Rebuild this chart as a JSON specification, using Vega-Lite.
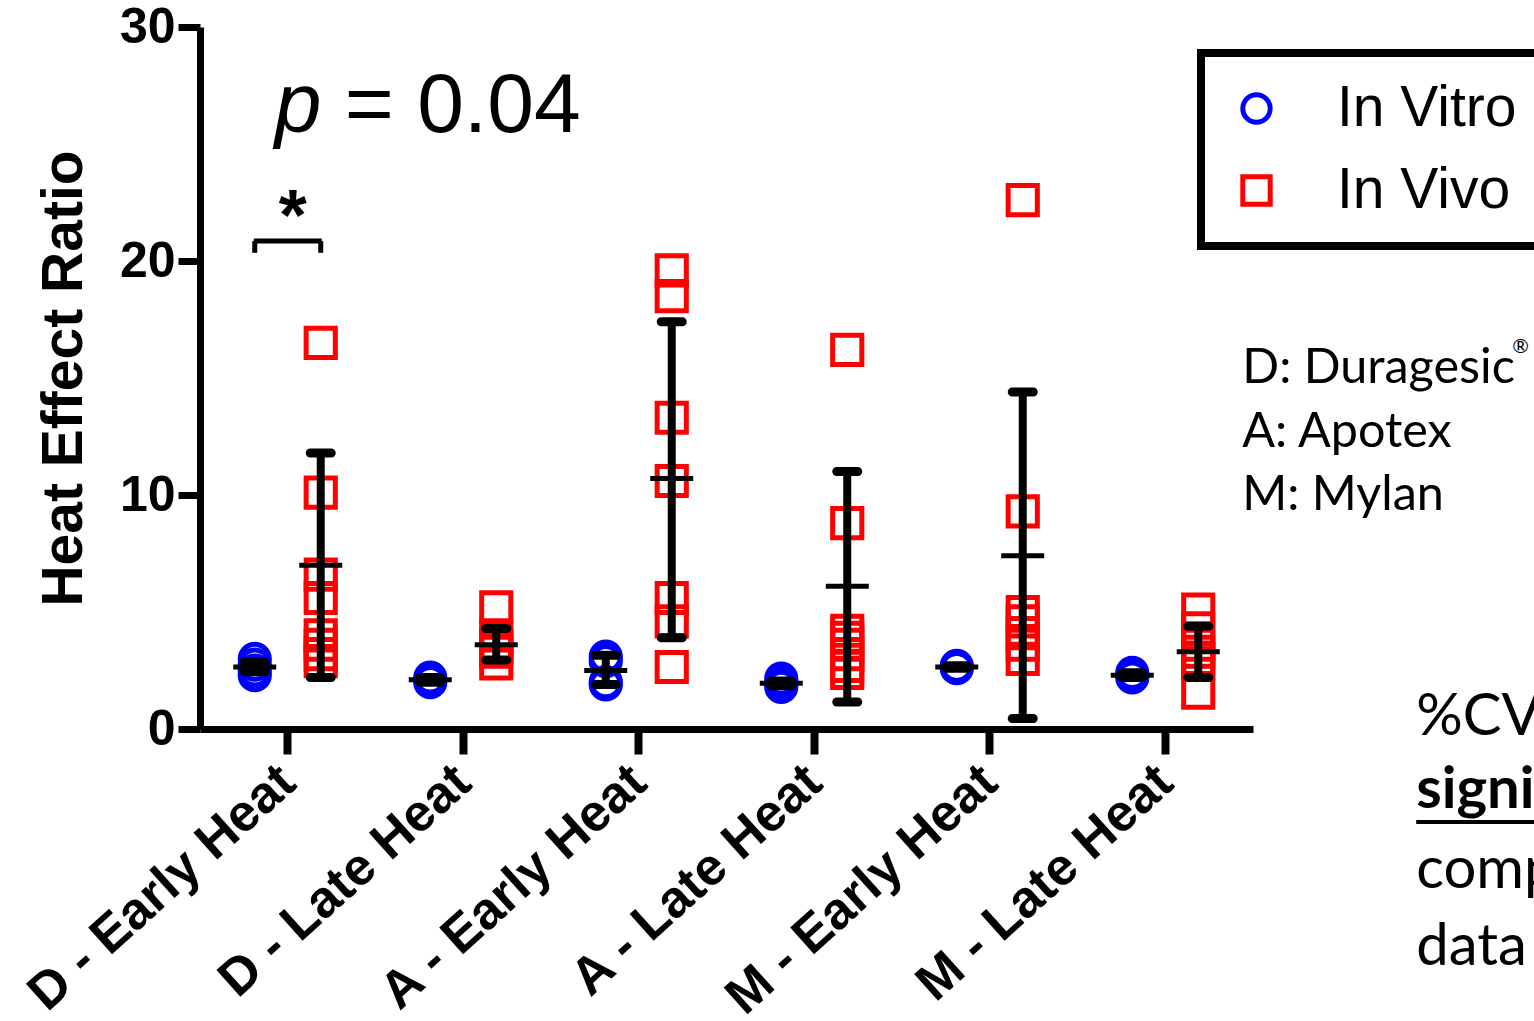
{
  "$schema": "https://vega.github.io/schema/vega-lite/v6.json",
  "width": 1053,
  "height": 702,
  "autosize": "none",
  "padding": {"left": 200, "top": 27, "right": 281, "bottom": 292},
  "background": "white",
  "datasets": {
    "points": [
      {"cat": "D - Early Heat", "grp": "In Vitro", "v": 3.0},
      {"cat": "D - Early Heat", "grp": "In Vitro", "v": 2.75},
      {"cat": "D - Early Heat", "grp": "In Vitro", "v": 2.5},
      {"cat": "D - Early Heat", "grp": "In Vitro", "v": 2.3},
      {"cat": "D - Early Heat", "grp": "In Vivo", "v": 16.5},
      {"cat": "D - Early Heat", "grp": "In Vivo", "v": 10.1},
      {"cat": "D - Early Heat", "grp": "In Vivo", "v": 6.6},
      {"cat": "D - Early Heat", "grp": "In Vivo", "v": 5.6},
      {"cat": "D - Early Heat", "grp": "In Vivo", "v": 4.0},
      {"cat": "D - Early Heat", "grp": "In Vivo", "v": 3.6},
      {"cat": "D - Early Heat", "grp": "In Vivo", "v": 3.2},
      {"cat": "D - Early Heat", "grp": "In Vivo", "v": 2.9},
      {"cat": "D - Late Heat", "grp": "In Vitro", "v": 2.2},
      {"cat": "D - Late Heat", "grp": "In Vitro", "v": 2.1},
      {"cat": "D - Late Heat", "grp": "In Vitro", "v": 2.0},
      {"cat": "D - Late Heat", "grp": "In Vivo", "v": 5.2},
      {"cat": "D - Late Heat", "grp": "In Vivo", "v": 4.0},
      {"cat": "D - Late Heat", "grp": "In Vivo", "v": 3.6},
      {"cat": "D - Late Heat", "grp": "In Vivo", "v": 3.5},
      {"cat": "D - Late Heat", "grp": "In Vivo", "v": 3.3},
      {"cat": "D - Late Heat", "grp": "In Vivo", "v": 2.8},
      {"cat": "A - Early Heat", "grp": "In Vitro", "v": 3.1},
      {"cat": "A - Early Heat", "grp": "In Vitro", "v": 2.9},
      {"cat": "A - Early Heat", "grp": "In Vitro", "v": 2.0},
      {"cat": "A - Early Heat", "grp": "In Vitro", "v": 1.9},
      {"cat": "A - Early Heat", "grp": "In Vivo", "v": 19.6},
      {"cat": "A - Early Heat", "grp": "In Vivo", "v": 18.5},
      {"cat": "A - Early Heat", "grp": "In Vivo", "v": 13.3},
      {"cat": "A - Early Heat", "grp": "In Vivo", "v": 10.6},
      {"cat": "A - Early Heat", "grp": "In Vivo", "v": 5.6},
      {"cat": "A - Early Heat", "grp": "In Vivo", "v": 4.6},
      {"cat": "A - Early Heat", "grp": "In Vivo", "v": 2.65},
      {"cat": "A - Late Heat", "grp": "In Vitro", "v": 2.15},
      {"cat": "A - Late Heat", "grp": "In Vitro", "v": 2.0},
      {"cat": "A - Late Heat", "grp": "In Vitro", "v": 1.8},
      {"cat": "A - Late Heat", "grp": "In Vivo", "v": 16.2},
      {"cat": "A - Late Heat", "grp": "In Vivo", "v": 8.8},
      {"cat": "A - Late Heat", "grp": "In Vivo", "v": 4.2},
      {"cat": "A - Late Heat", "grp": "In Vivo", "v": 3.9},
      {"cat": "A - Late Heat", "grp": "In Vivo", "v": 3.6},
      {"cat": "A - Late Heat", "grp": "In Vivo", "v": 3.2},
      {"cat": "A - Late Heat", "grp": "In Vivo", "v": 2.7},
      {"cat": "A - Late Heat", "grp": "In Vivo", "v": 2.4},
      {"cat": "M - Early Heat", "grp": "In Vitro", "v": 2.7},
      {"cat": "M - Early Heat", "grp": "In Vitro", "v": 2.65},
      {"cat": "M - Early Heat", "grp": "In Vitro", "v": 2.6},
      {"cat": "M - Early Heat", "grp": "In Vivo", "v": 22.6},
      {"cat": "M - Early Heat", "grp": "In Vivo", "v": 9.3},
      {"cat": "M - Early Heat", "grp": "In Vivo", "v": 5.0},
      {"cat": "M - Early Heat", "grp": "In Vivo", "v": 4.6},
      {"cat": "M - Early Heat", "grp": "In Vivo", "v": 4.1},
      {"cat": "M - Early Heat", "grp": "In Vivo", "v": 3.6},
      {"cat": "M - Early Heat", "grp": "In Vivo", "v": 3.0},
      {"cat": "M - Late Heat", "grp": "In Vitro", "v": 2.4},
      {"cat": "M - Late Heat", "grp": "In Vitro", "v": 2.3},
      {"cat": "M - Late Heat", "grp": "In Vitro", "v": 2.2},
      {"cat": "M - Late Heat", "grp": "In Vivo", "v": 5.1},
      {"cat": "M - Late Heat", "grp": "In Vivo", "v": 4.3},
      {"cat": "M - Late Heat", "grp": "In Vivo", "v": 3.6},
      {"cat": "M - Late Heat", "grp": "In Vivo", "v": 3.3},
      {"cat": "M - Late Heat", "grp": "In Vivo", "v": 3.0},
      {"cat": "M - Late Heat", "grp": "In Vivo", "v": 2.8},
      {"cat": "M - Late Heat", "grp": "In Vivo", "v": 1.55}
    ],
    "summary": [
      {"cat": "D - Early Heat", "grp": "In Vitro", "mean": 2.65, "lo": 2.45, "hi": 2.85},
      {"cat": "D - Early Heat", "grp": "In Vivo", "mean": 7.0, "lo": 2.2, "hi": 11.8},
      {"cat": "D - Late Heat", "grp": "In Vitro", "mean": 2.1, "lo": 2.0, "hi": 2.2},
      {"cat": "D - Late Heat", "grp": "In Vivo", "mean": 3.6, "lo": 2.95, "hi": 4.3},
      {"cat": "A - Early Heat", "grp": "In Vitro", "mean": 2.5, "lo": 1.9, "hi": 3.15},
      {"cat": "A - Early Heat", "grp": "In Vivo", "mean": 10.7, "lo": 3.9, "hi": 17.4},
      {"cat": "A - Late Heat", "grp": "In Vitro", "mean": 1.95, "lo": 1.85, "hi": 2.05},
      {"cat": "A - Late Heat", "grp": "In Vivo", "mean": 6.1, "lo": 1.15, "hi": 11.0},
      {"cat": "M - Early Heat", "grp": "In Vitro", "mean": 2.65, "lo": 2.6, "hi": 2.7},
      {"cat": "M - Early Heat", "grp": "In Vivo", "mean": 7.4, "lo": 0.45, "hi": 14.4},
      {"cat": "M - Late Heat", "grp": "In Vitro", "mean": 2.3, "lo": 2.2, "hi": 2.4},
      {"cat": "M - Late Heat", "grp": "In Vivo", "mean": 3.3, "lo": 2.2, "hi": 4.4}
    ]
  },
  "config": {
    "view": {"stroke": null},
    "font": "Liberation Sans",
    "legend": {"strokeColor": "black", "strokeWidth": 8}
  },
  "encoding": {
    "x": {
      "field": "cat", "type": "nominal", "sort": null,
      "scale": {"domain": ["D - Early Heat", "D - Late Heat", "A - Early Heat", "A - Late Heat", "M - Early Heat", "M - Late Heat"], "paddingInner": 0, "paddingOuter": 0},
      "axis": {
        "title": null, "domainColor": "black", "domainWidth": 7, "tickColor": "black", "tickWidth": 8, "tickSize": 25,
        "labelAngle": -42, "labelAlign": "right", "labelBaseline": "middle", "labelFont": "Liberation Sans", "labelFontWeight": "bold",
        "labelFontSize": 52, "labelColor": "black", "labelPadding": 20, "labelLimit": 0
      }
    },
    "y": {
      "type": "quantitative",
      "scale": {"domain": [0, 30], "nice": false, "zero": true},
      "axis": {
        "title": "Heat Effect Ratio", "titleFont": "Liberation Sans", "titleFontSize": 57, "titleFontWeight": "bold", "titleColor": "black", "titlePadding": 26,
        "values": [0, 10, 20, 30], "grid": false, "domainColor": "black", "domainWidth": 7, "tickColor": "black", "tickWidth": 7, "tickSize": 22,
        "labelFont": "Liberation Sans", "labelFontWeight": "bold", "labelFontSize": 50, "labelColor": "black", "labelPadding": 3
      }
    }
  },
  "layer": [
    {
      "data": {"name": "points"},
      "mark": {"type": "point", "filled": false, "strokeWidth": 5, "size": 850, "opacity": 1},
      "encoding": {
        "xOffset": {"field": "grp", "type": "nominal", "scale": {"domain": ["In Vitro", "In Vivo"], "paddingInner": 0, "paddingOuter": 0.33}},
        "y": {"field": "v", "type": "quantitative"},
        "color": {"field": "grp", "type": "nominal", "scale": {"domain": ["In Vitro", "In Vivo"], "range": ["#0000FF", "#FF0000"]},
          "legend": {"title": null, "orient": "none", "legendX": 1001, "legendY": 26, "strokeColor": "black", "fillColor": "white",
            "padding": 27, "labelFont": "Liberation Sans", "labelFontSize": 57, "labelColor": "black", "labelOffset": 52, "rowPadding": 24,
            "symbolSize": 750, "symbolStrokeWidth": 5, "labelLimit": 0}},
        "shape": {"field": "grp", "type": "nominal", "scale": {"domain": ["In Vitro", "In Vivo"], "range": ["circle", "square"]},
          "legend": {"title": null, "orient": "none", "legendX": 1001, "legendY": 26, "strokeColor": "black", "fillColor": "white",
            "padding": 27, "labelFont": "Liberation Sans", "labelFontSize": 57, "labelColor": "black", "labelOffset": 52, "rowPadding": 24,
            "symbolSize": 750, "symbolStrokeWidth": 5, "labelLimit": 0}}
      }
    },
    {
      "data": {"name": "summary"},
      "mark": {"type": "rule", "color": "black", "strokeWidth": 8},
      "encoding": {
        "xOffset": {"field": "grp", "type": "nominal"},
        "y": {"field": "lo", "type": "quantitative"},
        "y2": {"field": "hi"}
      }
    },
    {
      "data": {"name": "summary"},
      "mark": {"type": "tick", "color": "black", "size": 30, "thickness": 9, "cornerRadius": 4.5, "opacity": 1},
      "encoding": {
        "xOffset": {"field": "grp", "type": "nominal"},
        "y": {"field": "lo", "type": "quantitative"}
      }
    },
    {
      "data": {"name": "summary"},
      "mark": {"type": "tick", "color": "black", "size": 30, "thickness": 9, "cornerRadius": 4.5, "opacity": 1},
      "encoding": {
        "xOffset": {"field": "grp", "type": "nominal"},
        "y": {"field": "hi", "type": "quantitative"}
      }
    },
    {
      "data": {"name": "summary"},
      "mark": {"type": "tick", "color": "black", "size": 43, "thickness": 5, "opacity": 1},
      "encoding": {
        "xOffset": {"field": "grp", "type": "nominal"},
        "y": {"field": "mean", "type": "quantitative"}
      }
    },
    {
      "data": {"values": [{"grp": "In Vitro"}, {"grp": "In Vivo"}]},
      "mark": {"type": "rule", "color": "black", "strokeWidth": 5},
      "encoding": {
        "x": {"datum": "D - Early Heat"},
        "xOffset": {"field": "grp", "type": "nominal"},
        "y": {"datum": 20.85},
        "y2": {"datum": 20.35}
      }
    },
    {
      "data": {"values": [{}]},
      "mark": {"type": "tick", "color": "black", "size": 68, "thickness": 5, "opacity": 1},
      "encoding": {"x": {"datum": "D - Early Heat"}, "y": {"datum": 20.85}}
    },
    {
      "data": {"values": [{}]},
      "mark": {"type": "text", "text": "*", "font": "Liberation Sans", "fontSize": 72, "fontWeight": "bold", "align": "center", "baseline": "alphabetic", "dx": 5, "color": "black"},
      "encoding": {"x": {"datum": "D - Early Heat"}, "y": {"datum": 20.9}}
    },
    {
      "data": {"values": [{}]},
      "mark": {"type": "text", "text": "p", "font": "Liberation Sans", "fontSize": 84, "fontStyle": "italic", "align": "left", "baseline": "alphabetic", "dx": -13, "color": "black"},
      "encoding": {"x": {"datum": "D - Early Heat"}, "y": {"datum": 25.5}}
    },
    {
      "data": {"values": [{}]},
      "mark": {"type": "text", "text": "= 0.04", "font": "Liberation Sans", "fontSize": 84, "align": "left", "baseline": "alphabetic", "dx": 57, "color": "black"},
      "encoding": {"x": {"datum": "D - Early Heat"}, "y": {"datum": 25.5}}
    },
    {
      "data": {"values": [{"t": "D: Duragesic", "yy": 14.79}, {"t": "A: Apotex", "yy": 12.05}, {"t": "M: Mylan", "yy": 9.36}]},
      "mark": {"type": "text", "font": "Lato", "fontSize": 48.5, "align": "left", "baseline": "alphabetic", "dx": 77, "color": "black"},
      "encoding": {"x": {"datum": "M - Late Heat"}, "y": {"field": "yy", "type": "quantitative"}, "text": {"field": "t"}}
    },
    {
      "data": {"values": [{}]},
      "mark": {"type": "text", "text": "®", "font": "Lato", "fontSize": 20, "align": "left", "baseline": "alphabetic", "dx": 347, "color": "black"},
      "encoding": {"x": {"datum": "M - Late Heat"}, "y": {"datum": 16.05}}
    },
    {
      "data": {"values": [{"t": "%CV", "yy": -0.26}, {"t": "comp", "yy": -6.79}, {"t": "data", "yy": -10.09}]},
      "mark": {"type": "text", "font": "Lato", "fontSize": 58, "align": "left", "baseline": "alphabetic", "dx": 251, "color": "black"},
      "encoding": {"x": {"datum": "M - Late Heat"}, "y": {"field": "yy", "type": "quantitative"}, "text": {"field": "t"}}
    },
    {
      "data": {"values": [{}]},
      "mark": {"type": "text", "text": "signi", "font": "Lato", "fontSize": 58, "fontWeight": "bold", "align": "left", "baseline": "alphabetic", "dx": 251, "color": "black"},
      "encoding": {"x": {"datum": "M - Late Heat"}, "y": {"datum": -3.38}}
    },
    {
      "data": {"values": [{}]},
      "mark": {"type": "rule", "color": "black", "strokeWidth": 4},
      "encoding": {"x": {"datum": "M - Late Heat", "bandPosition": 1.93}, "x2": {"datum": "M - Late Heat", "bandPosition": 2.8}, "y": {"datum": -3.97}}
    }
  ]
}
